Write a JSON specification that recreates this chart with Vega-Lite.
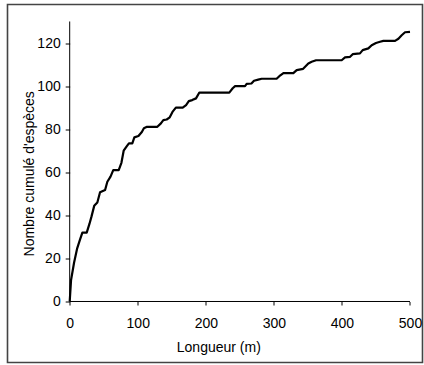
{
  "$schema": "https://vega.github.io/schema/vega-lite/v6.json",
  "width": 415,
  "height": 358,
  "autosize": "none",
  "padding": {"left": 7.5, "top": 4.5, "right": 1.5, "bottom": 2.5},
  "background": "white",
  "config": {
    "font": "Liberation Sans",
    "view": {"stroke": "#444444", "strokeWidth": 1.6},
    "axis": {
      "grid": false,
      "domain": false,
      "tickColor": "black",
      "tickWidth": 1,
      "labelColor": "black",
      "labelFontSize": 14,
      "titleColor": "black",
      "titleFontSize": 14,
      "titleFontWeight": "normal",
      "labelFlush": false,
      "labelOverlap": false
    }
  },
  "data": {
    "values": [
      {"longueur": 0, "especes": 0},
      {"longueur": 2, "especes": 10},
      {"longueur": 6.4, "especes": 18},
      {"longueur": 11, "especes": 24.7},
      {"longueur": 15, "especes": 28.6},
      {"longueur": 18.6, "especes": 32},
      {"longueur": 25, "especes": 32},
      {"longueur": 29, "especes": 36},
      {"longueur": 32, "especes": 39.4},
      {"longueur": 36, "especes": 44.4},
      {"longueur": 40.6, "especes": 46},
      {"longueur": 44.6, "especes": 50.7},
      {"longueur": 52, "especes": 51.8},
      {"longueur": 55.3, "especes": 55.6},
      {"longueur": 60, "especes": 58},
      {"longueur": 64, "especes": 61},
      {"longueur": 72, "especes": 61},
      {"longueur": 76, "especes": 64.4},
      {"longueur": 79.3, "especes": 70},
      {"longueur": 83.7, "especes": 72},
      {"longueur": 87, "especes": 73.4},
      {"longueur": 92, "especes": 73.4},
      {"longueur": 95, "especes": 76.2},
      {"longueur": 101, "especes": 76.8},
      {"longueur": 106, "especes": 78.7},
      {"longueur": 109, "especes": 80.4},
      {"longueur": 113.6, "especes": 81.1},
      {"longueur": 128.8, "especes": 81.1},
      {"longueur": 134, "especes": 82.7},
      {"longueur": 137.6, "especes": 84.2},
      {"longueur": 142.5, "especes": 84.5},
      {"longueur": 147, "especes": 85.5},
      {"longueur": 151, "especes": 88},
      {"longueur": 156, "especes": 90},
      {"longueur": 166, "especes": 90},
      {"longueur": 171, "especes": 91.2},
      {"longueur": 175, "especes": 93},
      {"longueur": 180, "especes": 93.5},
      {"longueur": 185.6, "especes": 94.3},
      {"longueur": 190.5, "especes": 97},
      {"longueur": 234.5, "especes": 97},
      {"longueur": 239.5, "especes": 99},
      {"longueur": 243, "especes": 100},
      {"longueur": 257.6, "especes": 100},
      {"longueur": 260, "especes": 101},
      {"longueur": 267, "especes": 101.2},
      {"longueur": 270.8, "especes": 102.5},
      {"longueur": 277, "especes": 103},
      {"longueur": 282, "especes": 103.4},
      {"longueur": 304, "especes": 103.4},
      {"longueur": 308, "especes": 104.6},
      {"longueur": 314, "especes": 106},
      {"longueur": 328.6, "especes": 106},
      {"longueur": 333.5, "especes": 107.4},
      {"longueur": 343, "especes": 108},
      {"longueur": 350.6, "especes": 110.5},
      {"longueur": 355.5, "especes": 111.3},
      {"longueur": 362, "especes": 112},
      {"longueur": 399.6, "especes": 112},
      {"longueur": 404.5, "especes": 113.3},
      {"longueur": 412, "especes": 113.6},
      {"longueur": 415.8, "especes": 114.8},
      {"longueur": 426.5, "especes": 115.2},
      {"longueur": 430.5, "especes": 116.7},
      {"longueur": 438.8, "especes": 117.5},
      {"longueur": 443.7, "especes": 119},
      {"longueur": 450, "especes": 120},
      {"longueur": 456, "especes": 120.6},
      {"longueur": 460.8, "especes": 121},
      {"longueur": 478, "especes": 121},
      {"longueur": 483, "especes": 122},
      {"longueur": 487.8, "especes": 123.6},
      {"longueur": 492.7, "especes": 125},
      {"longueur": 500, "especes": 125.2}
    ]
  },
  "layer": [
    {
      "mark": {"type": "line", "color": "black", "strokeWidth": 2.2, "strokeJoin": "round"},
      "encoding": {
        "x": {
          "field": "longueur",
          "type": "quantitative",
          "scale": {"domain": [-91.39, 518.37], "nice": false, "zero": false},
          "axis": {
            "title": "Longueur (m)",
            "values": [0, 100, 200, 300, 400, 500],
            "offset": -61,
            "tickSize": 3.5,
            "labelPadding": 11.5,
            "titleX": 210.8,
            "titleY": 50.2,
            "titleBaseline": "alphabetic",
            "titleAnchor": null,
            "titleAlign": "center"
          }
        },
        "y": {
          "field": "especes",
          "type": "quantitative",
          "scale": {"domain": [-28.32, 137.88], "nice": false, "zero": false},
          "axis": {
            "title": "Nombre cumulé d'espèces",
            "values": [0, 20, 40, 60, 80, 100, 120],
            "offset": -62.2,
            "tickSize": 4.5,
            "labelPadding": 5,
            "titleX": -36.4,
            "titleY": 168.8,
            "titleAngle": -90,
            "titleBaseline": "alphabetic",
            "titleAlign": "center"
          }
        }
      }
    },
    {
      "data": {"values": [{}]},
      "mark": {"type": "rule", "color": "black", "strokeWidth": 1},
      "encoding": {
        "x": {"datum": 0},
        "x2": {"datum": 500},
        "y": {"datum": 0}
      }
    },
    {
      "data": {"values": [{}]},
      "mark": {"type": "rule", "color": "black", "strokeWidth": 1},
      "encoding": {
        "x": {"datum": 0},
        "y": {"datum": 0},
        "y2": {"datum": 130}
      }
    }
  ]
}
